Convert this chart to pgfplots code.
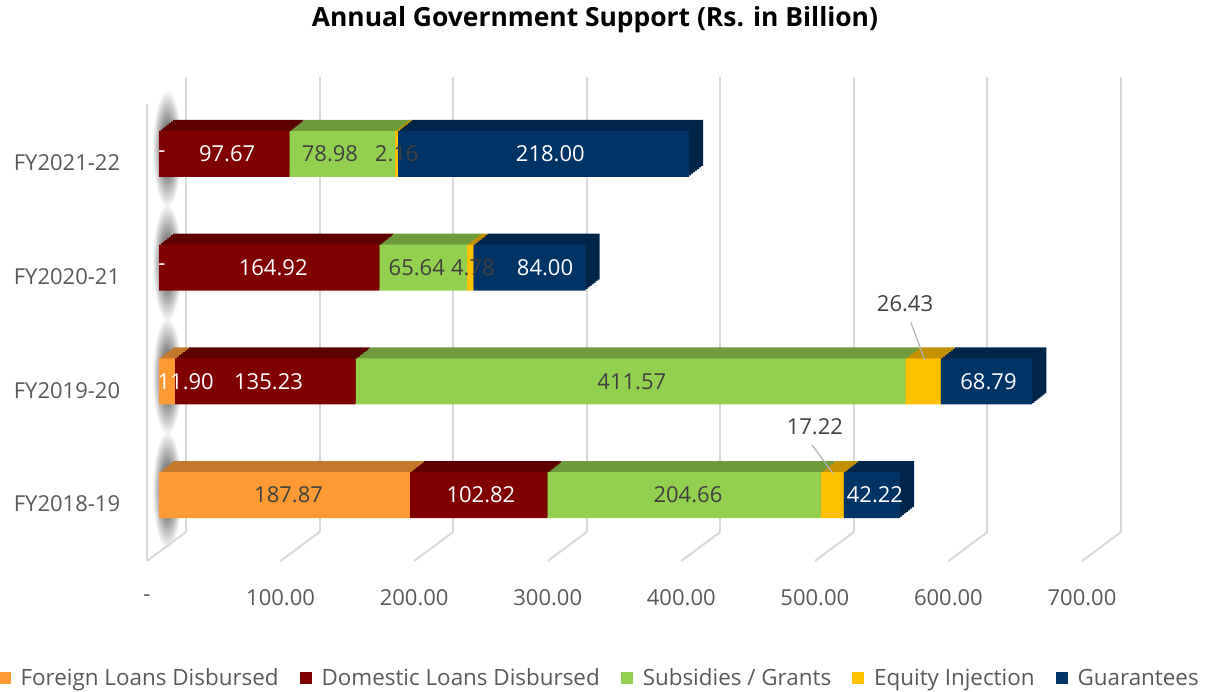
\documentclass[border=0pt]{standalone}
\usepackage{pgfplots}
\usepackage{pgfplotstable}
\pgfplotsset{compat=1.18}
\usepackage{fontspec}
\setmainfont{Open Sans}
\usetikzlibrary{fadings}
\definecolor{cOr}{HTML}{FF9933}
\definecolor{cDr}{HTML}{800000}
\definecolor{cGr}{HTML}{92D050}
\definecolor{cGo}{HTML}{FFC000}
\definecolor{cNv}{HTML}{003366}
\definecolor{tOr}{HTML}{C4782C}
\definecolor{tDr}{HTML}{5E0000}
\definecolor{tGr}{HTML}{6E9B3C}
\definecolor{tGo}{HTML}{C39200}
\definecolor{tNv}{HTML}{00254A}
\definecolor{gridc}{HTML}{D9D9D9}
\definecolor{txt}{HTML}{595959}
\definecolor{lbl}{HTML}{404040}
\tikzfading[name=softblob, inner color=transparent!0, outer color=transparent!100]

\pgfplotstableread{
y foreign domestic subsidies equity guarantees
0 187.87 102.82 204.66 17.22 42.22
1 11.90 135.23 411.57 26.43 68.79
2 0 164.92 65.64 4.78 84.00
3 0 97.67 78.98 2.16 218.00
}\datatable

\pgfplotstableread{
x y label
241 0 102.82
536 0 42.22
20 1 11.90
82 1 135.23
621 1 68.79
2.2 2 -
85.5 2 164.92
289 2 84.00
2.2 3 -
51 3 97.67
293 3 218.00
}\whitelabels

\pgfplotstableread{
x y label
97 0 187.87
396 0 204.66
491 0.6 17.22
354 1 411.57
558.5 1.686 26.43
193 2 65.64
235 2 4.78
128 3 78.98
178 3 2.16
}\graylabels

\newcommand{\fs}{\fontsize{16.5}{20}\selectfont}

\pgfplotsset{
  base/.style={scale only axis, width=701.25pt, height=341.25pt,
    xmin=0, xmax=700, ymin=-0.5, ymax=3.5, anchor=south west, clip=false,
    axis line style={draw=none}, tick style={draw=none},
    xtick=\empty, ytick=\empty},
}

% one layer of the bars' depth, shifted by #1/7 of the full (10.5pt, 8.25pt) depth
\newcommand{\topface}[1]{%
\pgfmathsetmacro{\ox}{119.25+10.5*#1/7}%
\pgfmathsetmacro{\oy}{105+8.25*#1/7}%
\begin{axis}[base, at={(\ox pt,\oy pt)}, xbar stacked, bar width=34.5pt]
  \addplot[fill=tOr, draw=none] table[x=foreign, y=y] {\datatable};
  \addplot[fill=tDr, draw=none] table[x=domestic, y=y] {\datatable};
  \addplot[fill=tGr, draw=none] table[x=subsidies, y=y] {\datatable};
  \addplot[fill=tGo, draw=none] table[x=equity, y=y] {\datatable};
  \addplot[fill=tNv, draw=none] table[x=guarantees, y=y] {\datatable};
\end{axis}}

\begin{document}
\begin{tikzpicture}
\useasboundingbox (0,0) rectangle (910.5pt,519pt);

% back wall gridlines and wall shadows
\begin{axis}[base, at={(139.5pt,120pt)},
  xtick={0,100,...,700}, xticklabels={}, xmajorgrids,
  grid style={gridc, line width=1.5pt}]
  \addplot[draw=none] coordinates {(0,0)};
  \pgfplotsinvokeforeach{0,1,2,3}{
    \fill[black!85, path fading=softblob] (axis cs:-14.2,#1-0.13) ellipse (11pt and 44pt);
  }
\end{axis}

% top and side faces (layered to approximate the oblique depth)
\topface{7}
\topface{6}
\topface{5}
\topface{4}
\topface{3}
\topface{2}
\topface{1}

% front faces
\begin{axis}[base, at={(119.25pt,105pt)}, xbar stacked, bar width=34.5pt]
  \addplot[fill=cOr, draw=none] table[x=foreign, y=y] {\datatable};
  \addplot[fill=cDr, draw=none] table[x=domestic, y=y] {\datatable};
  \addplot[fill=cGr, draw=none] table[x=subsidies, y=y] {\datatable};
  \addplot[fill=cGo, draw=none] table[x=equity, y=y] {\datatable};
  \addplot[fill=cNv, draw=none] table[x=guarantees, y=y] {\datatable};
\end{axis}

% data labels
\begin{axis}[base, at={(119.25pt,105pt)}]
  \addplot[gray!60, line width=0.9pt] coordinates {(489,0.44) (504.6,0.19)};
  \addplot[gray!60, line width=0.9pt] coordinates {(562.8,1.519) (573.3,1.19)};
  \addplot[draw=none, nodes near coords, point meta=explicit symbolic,
    nodes near coords style={anchor=center, text=white, font=\fs}]
    table[meta=label] {\whitelabels};
  \addplot[draw=none, nodes near coords, point meta=explicit symbolic,
    nodes near coords style={anchor=center, text=lbl, font=\fs}]
    table[meta=label] {\graylabels};
\end{axis}

% front plane: tick labels, floor lines, legend
\begin{axis}[base, at={(110.25pt,98.25pt)},
  xtick={0,100,...,700},
  xticklabels={-,100.00,200.00,300.00,400.00,500.00,600.00,700.00},
  xticklabel style={anchor=center, yshift=-27.75pt, text=txt, font=\fs},
  ytick={0,1,2,3},
  yticklabels={FY2018-19,FY2019-20,FY2020-21,FY2021-22},
  yticklabel style={anchor=center, xshift=-60pt, text=txt, font=\fs},
  legend columns=5,
  legend cell align=left,
  legend image code/.code={\fill[#1] (0pt,-4.5pt) rectangle (9pt,4.5pt);},
  legend style={draw=none, fill=none, at={(0.4845,-0.257)}, anchor=center,
    font=\fontsize{16.8}{20}\selectfont, text=txt,
    /tikz/every odd column/.append style={column sep=5.5pt},
    /tikz/every even column/.append style={column sep=13.75pt}},
]
  \addplot[draw=none, forget plot] coordinates {(0,0)};
  \draw[gridc, line width=1.5pt] (axis cs:0,-0.5) -- (axis cs:0,3.52);
  \pgfplotsinvokeforeach{0,100,200,300,400,500,600,700}{
    \draw[gridc, line width=1.5pt] (axis cs:#1,-0.5) -- ++(29.25pt,21.75pt);
  }
  \addlegendimage{fill=cOr, draw=none}
  \addlegendentry{Foreign Loans Disbursed}
  \addlegendimage{fill=cDr, draw=none}
  \addlegendentry{Domestic Loans Disbursed}
  \addlegendimage{fill=cGr, draw=none}
  \addlegendentry{Subsidies / Grants}
  \addlegendimage{fill=cGo, draw=none}
  \addlegendentry{Equity Injection}
  \addlegendimage{fill=cNv, draw=none}
  \addlegendentry{Guarantees}
\end{axis}

\node[font=\fontsize{19.8}{24}\selectfont\bfseries, text=black] at (446.25pt,504pt)
  {Annual Government Support (Rs. in Billion)};
\end{tikzpicture}
\end{document}
